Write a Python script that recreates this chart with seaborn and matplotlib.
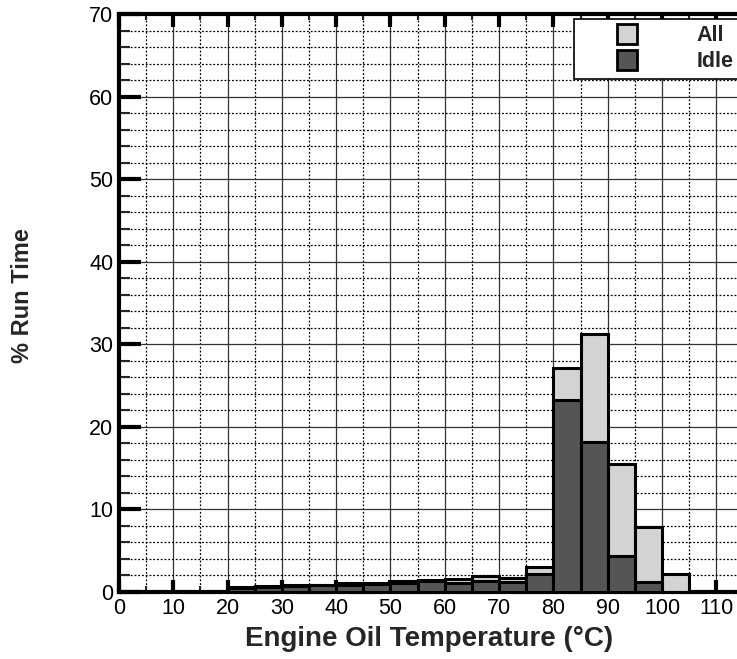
import numpy as np
import matplotlib
matplotlib.use("Agg")
import matplotlib.pyplot as plt
import seaborn as sns
from matplotlib.patches import Patch, Rectangle
from matplotlib.legend_handler import HandlerPatch
from matplotlib.ticker import MultipleLocator

# ---- data ----
bin_left = [20, 25, 30, 35, 40, 45, 50, 55, 60, 65, 70, 75, 80, 85, 90, 95, 100]
all_pct = [0.55, 0.7, 0.85, 0.9, 1.05, 1.15, 1.3, 1.45, 1.6, 1.95, 1.65, 3.05,
           27.1, 31.3, 15.5, 7.9, 2.2]
idle_pct = [0.45, 0.6, 0.7, 0.8, 0.9, 1.0, 1.15, 1.3, 1.1, 1.35, 1.2, 2.2,
            23.3, 18.2, 4.4, 1.25, 0.0]
series_labels = ["All", "Idle"]
x_ticks = [0, 10, 20, 30, 40, 50, 60, 70, 80, 90, 100, 110]
y_ticks = [0, 10, 20, 30, 40, 50, 60, 70]

BIN_W = 5
centers = np.array(bin_left) + BIN_W / 2
edges = list(bin_left) + [bin_left[-1] + BIN_W]

LIGHT = "#d3d3d3"
DARK = "#555555"

sns.set_theme(style="white")
plt.rcParams["font.family"] = ["Liberation Sans", "DejaVu Sans"]

W, H = 737, 659
fig = plt.figure(figsize=(W / 100, H / 100), dpi=100)
ax_left_px, ax_bottom_px, ax_top_px = 119, 592, 14
xmax = 120
px_per_unit = 5.43
ax_width_px = xmax * px_per_unit
ax = fig.add_axes([ax_left_px / W, 1 - ax_bottom_px / H,
                   ax_width_px / W, (ax_bottom_px - ax_top_px) / H])

sns.histplot(x=centers, weights=all_pct, bins=edges, color=LIGHT,
             edgecolor="black", linewidth=2.2, alpha=1, ax=ax, zorder=3)
sns.histplot(x=centers, weights=idle_pct, bins=edges, color=DARK,
             edgecolor="black", linewidth=2.2, alpha=1, ax=ax, zorder=4)

ax.set_xlim(0, xmax)
ax.set_ylim(0, 70)
ax.set_xticks(x_ticks)
ax.set_yticks(y_ticks)
ax.xaxis.set_minor_locator(MultipleLocator(5))
ax.yaxis.set_minor_locator(MultipleLocator(2))

ax.grid(which="major", color="#333333", linestyle="-", linewidth=0.9, zorder=0)
ax.grid(which="minor", color="black", linestyle=(0, (1.5, 1.5)), linewidth=0.9, zorder=0)
ax.set_axisbelow(True)

ax.tick_params(axis="x", which="major", direction="in", length=9, width=3,
               top=True, bottom=True, labelsize=15.5, pad=4, colors="black")
ax.tick_params(axis="x", which="minor", direction="in", length=4, width=1.5,
               top=True, bottom=True)
ax.tick_params(axis="y", which="major", direction="in", length=16, width=3,
               left=True, labelsize=15.5, pad=4, colors="black")
ax.tick_params(axis="y", which="minor", direction="in", length=8, width=1.5,
               left=True)
for s in ax.spines.values():
    s.set_linewidth(3)
    s.set_color("black")

ax.set_xlabel("Engine Oil Temperature (°C)", fontsize=20, fontweight="bold")
ax.set_ylabel("% Run Time", fontsize=17, fontweight="bold")
ax.xaxis.set_label_coords((429 - ax_left_px) / ax_width_px, -0.058)
ax.yaxis.set_label_coords((34 - ax_left_px) / ax_width_px, 0.513)


def square_patch(legend, orig_handle, xdescent, ydescent, width, height, fontsize):
    side = height * 1.2
    return Rectangle((width / 2 - side / 2 - xdescent, height / 2 - side / 2 - ydescent),
                     side, side)


handles = [Patch(facecolor=LIGHT, edgecolor="black", linewidth=2),
           Patch(facecolor=DARK, edgecolor="black", linewidth=2)]
leg = fig.legend(handles, series_labels, loc="upper left",
                 bbox_to_anchor=(574 / W, 1 - 19 / H), bbox_transform=fig.transFigure,
                 borderaxespad=0,
                 prop={"weight": "bold", "size": 15.5}, fancybox=False, frameon=True,
                 edgecolor="black", framealpha=1, borderpad=0.3, handlelength=4.33,
                 handleheight=0.85, handletextpad=1.05, labelspacing=0.22,
                 handler_map={Patch: HandlerPatch(patch_func=square_patch)})
leg.get_frame().set_linewidth(1.2)

fig.savefig("out.png", dpi=100)
